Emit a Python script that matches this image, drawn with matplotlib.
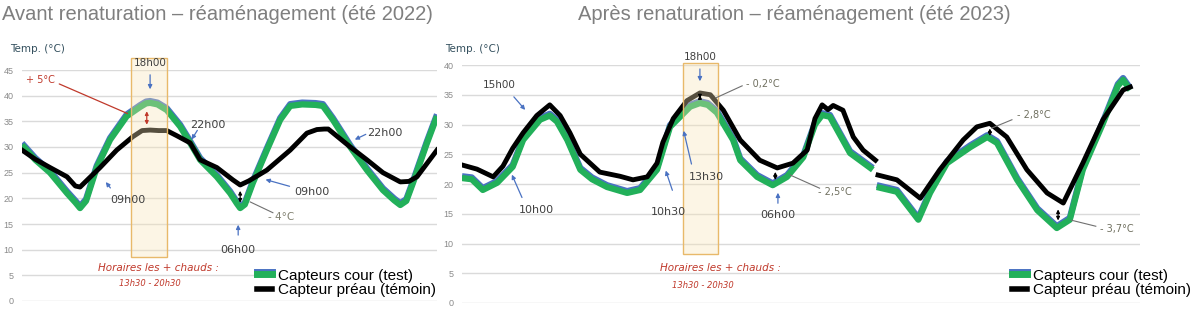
import numpy as np
import matplotlib.pyplot as plt
import matplotlib.patheffects as pe
from matplotlib.patches import Rectangle
from matplotlib.lines import Line2D

plt.rcParams['font.family'] = ['Liberation Sans', 'DejaVu Sans']

# ---- data: hours since start of record, temperature (°C) ----
# before (summer 2022)
h22_test = [0, 2.0, 4.2, 6.75, 8.0, 8.7, 9.6, 11.2, 13.2, 15.7, 17.7, 18.6, 19.2, 20.3, 21.7,
            23.7, 25.2, 26.7, 29.2, 31.2, 32.2, 32.7, 33.4, 34.6, 36.7, 38.7, 40.2, 42.0,
            44.0, 45.1, 46.6, 49.2, 51.7, 54.1, 55.8, 56.7, 57.6, 58.6, 60.7, 62.2]
t22_test = [30.4, 27.5, 25, 21, 19.2, 18.1, 19.5, 26, 31.4, 36, 37.8, 38.5, 38.6, 38.3, 37.2,
            34, 30.8, 27.5, 24.2, 21, 19.0, 18.1, 18.8, 23, 29.4, 35.3, 38, 38.3,
            38.2, 38, 35.3, 30, 25.5, 21.6, 19.6, 18.7, 19.5, 23, 30.8, 36]
h22_ref = [0, 2.0, 4.2, 6.75, 8.0, 8.7, 9.8, 11.7, 14.2, 16.6, 18.0, 19.2, 20.5, 21.7, 23.2,
           25.2, 26.7, 29.2, 31.6, 32.7, 34.0, 36.7, 40.2, 42.7, 44.2, 45.3, 45.9, 49.2,
           51.7, 54.1, 56.7, 58.0, 59.2, 62.2]
t22_ref = [29.4, 27.6, 26, 24.2, 22.4, 22.2, 23.6, 26, 29.4, 32, 33.2, 33.3, 33.2, 33.2, 32.2,
           30.8, 27.5, 26, 23.6, 22.6, 23.4, 25.5, 29.4, 32.7, 33.4, 33.5, 33.5, 30,
           27.5, 25, 23.2, 23.3, 24.2, 29.4]

# after (summer 2023) - NaN marks the gap in the record
h23_test = [0, 1.5, 3.2, 5.4, 7.8, 9.4, 12, 13.5, 14.6, 16.2, 18.2, 20.0, 22.3, 25.4, 27.4,
            30, 32, 35.1, 36.6, 37.8, 39.2, 41.7, 42.8, 45.4, 47.8, 50, 52.5, 54.3, 55.4,
            56.6, 59.7, 63.2, 63.5,
            63.8, 66.9, 70.2, 72, 74.6, 78.2, 80.8, 82.3, 85.4, 88.5, 91.5, 93.5, 95.5,
            98.6, 100.9, 101.7, 102.8]
t23_test = [21, 20.8, 19, 20.2, 22.9, 27.4, 30.8, 31.5, 30.5, 27.4, 22.4, 20.8, 19.5, 18.5, 19,
            22.4, 29.6, 33, 33.6, 33.3, 32, 27.4, 24, 21.2, 19.8, 21.2, 24.5, 30, 31.6,
            31.3, 25.2, 22.4, np.nan,
            19.5, 18.7, 14, 18.5, 23.5, 26.2, 27.9, 26.9, 20.7, 15.6, 12.6, 14, 22.4,
            30.2, 36.5, 37.5, 35.8]
h23_ref = [0, 2.3, 4.8, 6.3, 7.8, 9.4, 11.5, 13.5, 15.1, 16.6, 18.2, 21.2, 24.3, 26.3, 28.5,
           30, 30.9, 32.5, 34.6, 36.6, 38.2, 40.2, 42.8, 45.8, 48.5, 50.9, 53.1, 54.3,
           55.4, 56.3, 57.1, 58.6, 60.2, 61.7, 63.6, 63.8,
           64.0, 66.9, 70.5, 73.5, 77.1, 79.2, 81.2, 83.8, 86.9, 90, 92.5, 95.5, 98.6,
           101.7, 102.8]
t23_ref = [23.2, 22.5, 21.2, 23, 26, 28.6, 31.5, 33.3, 31.5, 28.6, 25, 22, 21.3, 20.7, 21.2,
           23.5, 27, 31, 34, 35.3, 35, 32.4, 27.4, 24, 22.7, 23.5, 25.7, 31,
           33.3, 32.5, 33.2, 32.4, 27.9, 25.7, 24, np.nan,
           21.5, 20.7, 17.6, 22.4, 27.4, 29.6, 30.2, 27.9, 22.4, 18.5, 16.8, 23.5, 30.8,
           35.8, 36.3]

labels = ['Capteurs cour (test)', 'Capteur préau (témoin)']
GREEN = '#22B05A'
BLUE = '#4A72C2'
RED = '#C0392B'
GRAY_TXT = '#404040'
ARROW = '#4A72C2'

test_fx = [pe.SimpleLineShadow(offset=(0, 1.3), shadow_color=BLUE, alpha=1), pe.Normal()]

fig = plt.figure(figsize=(12, 3.18), dpi=100)


def panel(rect, h_test, t_test, h_ref, t_ref, ymax, xmax):
    ax = fig.add_axes(rect)
    ax.plot(h_test, t_test, color=GREEN, lw=4.5, solid_capstyle='butt',
            solid_joinstyle='round', path_effects=test_fx, zorder=3)
    ax.plot(h_ref, t_ref, color='black', lw=3.5, solid_joinstyle='round', zorder=4)
    ax.set_ylim(0, ymax)
    ax.set_xlim(0, xmax)
    ax.set_yticks(np.arange(0, ymax + 1, 5))
    ax.set_xticks([])
    ax.grid(axis='y', color='#DADADA', lw=1)
    ax.set_axisbelow(True)
    for s in ax.spines.values():
        s.set_visible(False)
    ax.tick_params(axis='y', length=0, labelsize=6.5, labelcolor='#8A8A8A', pad=6)
    return ax


def arrow(ax, x0, y0, x1, y1, color=ARROW):
    ax.annotate('', xy=(x1, y1), xytext=(x0, y0),
                arrowprops=dict(arrowstyle='-|>', color=color, lw=0.9, mutation_scale=6),
                annotation_clip=False, zorder=6)


def darrow(ax, x, y0, y1, color='black'):
    ax.annotate('', xy=(x, y1), xytext=(x, y0),
                arrowprops=dict(arrowstyle='<|-|>', color=color, lw=0.9, mutation_scale=5),
                zorder=6)


def note(ax, x, y, s, color=GRAY_TXT, size=7.5, **kw):
    ax.text(x, y, s, color=color, fontsize=size, ha='center', va='center',
            family=['DejaVu Sans'], zorder=7, **kw)


def hot_box(ax, x0, x1, y0, y1):
    ax.add_patch(Rectangle((x0, y0), x1 - x0, y1 - y0, facecolor='#F7E3B5', alpha=0.35,
                           edgecolor='none', zorder=5, clip_on=False))
    ax.add_patch(Rectangle((x0, y0), x1 - x0, y1 - y0, facecolor='none',
                           edgecolor='#E8B96A', lw=1, zorder=5, clip_on=False))


# ---------- left: 2022 ----------
ax1 = panel([22 / 1200, 17 / 318, 415 / 1200, 231 / 318],
            h22_test, t22_test, h22_ref, t22_ref, 45, 62.2)
hot_box(ax1, 16.3, 21.7, 8.5, 47.4)
note(ax1, 19.2, 46.3, '18h00')
arrow(ax1, 19.2, 44.6, 19.2, 40.7)
note(ax1, 2.7, 43.1, '+ 5°C', color=RED, size=7)
ax1.annotate('', xy=(16.2, 36.3), xytext=(5.2, 42.5),
             arrowprops=dict(arrowstyle='-', color=RED, lw=0.9), annotation_clip=False)
darrow(ax1, 18.7, 37.5, 33.8, color=RED)
note(ax1, 27.9, 34.3, '22h00', size=8)
arrow(ax1, 26.5, 33.7, 25.2, 31.0)
note(ax1, 54.4, 32.7, '22h00', size=8)
arrow(ax1, 51.9, 32.7, 49.5, 31.2)
note(ax1, 15.9, 19.7, '09h00', size=8)
arrow(ax1, 13.5, 21.6, 12.3, 23.6)
note(ax1, 43.5, 21.2, '09h00', size=8)
arrow(ax1, 40.5, 22.2, 36.1, 23.8)
note(ax1, 38.9, 16.4, '- 4°C', color='#808070', size=7.5)
ax1.plot([37.6, 34.2], [17.2, 19.3], color='#707070', lw=0.8, zorder=6)
darrow(ax1, 32.7, 22.0, 18.6)
note(ax1, 32.4, 9.9, '06h00', size=8)
arrow(ax1, 32.4, 12.3, 32.4, 15.4)
note(ax1, 20.4, 6.4, 'Horaires les + chauds :', color=RED, size=7.5, style='italic')
note(ax1, 19.2, 3.5, '13h30 - 20h30', color=RED, size=6, style='italic')

# ---------- right: 2023 ----------
ax2 = panel([462 / 1200, 15 / 318, 678 / 1200, 238 / 318],
            h23_test, t23_test, h23_ref, t23_ref, 40, 104.3)
hot_box(ax2, 34.0, 39.4, 8.2, 40.3)
note(ax2, 5.8, 36.6, '15h00')
arrow(ax2, 7.7, 35.0, 10.0, 32.1)
note(ax2, 36.6, 41.3, '18h00')
arrow(ax2, 36.6, 39.8, 36.6, 36.8)
note(ax2, 46.2, 36.8, '- 0,2°C', color='#707060', size=7)
ax2.plot([43.1, 39.1], [36.5, 34.5], color='#707070', lw=0.8, zorder=6)
darrow(ax2, 36.6, 35.4, 33.9)
note(ax2, 11.5, 15.6, '10h00', size=8)
arrow(ax2, 9.4, 17.3, 7.5, 22.0)
note(ax2, 31.7, 15.3, '10h30', size=8)
arrow(ax2, 32.5, 18.5, 31.2, 22.7)
note(ax2, 37.6, 21.2, '13h30', size=8)
arrow(ax2, 35.4, 22.9, 34.0, 29.4)
note(ax2, 48.6, 14.8, '06h00', size=8)
arrow(ax2, 48.6, 16.3, 48.6, 19.0)
note(ax2, 57.4, 18.7, '- 2,5°C', color='#707060', size=7)
ax2.plot([50.5, 55.0], [21.5, 19.3], color='#707070', lw=0.8, zorder=6)
darrow(ax2, 48.2, 22.5, 20.2)
note(ax2, 87.9, 31.6, '- 2,8°C', color='#707060', size=7)
ax2.plot([84.6, 81.5], [30.8, 29.4], color='#707070', lw=0.8, zorder=6)
darrow(ax2, 81.2, 29.8, 27.6)
note(ax2, 100.8, 12.4, '- 3,7°C', color='#707060', size=7)
ax2.plot([97.5, 93.8], [12.9, 13.9], color='#707070', lw=0.8, zorder=6)
darrow(ax2, 91.7, 16.2, 13.4)
note(ax2, 39.7, 5.9, 'Horaires les + chauds :', color=RED, size=7.5, style='italic')
note(ax2, 37.1, 3.0, '13h30 - 20h30', color=RED, size=6, style='italic')

# ---------- titles ----------
fig.text(2 / 1200, 1 - 15 / 318, 'Avant renaturation – réaménagement (été 2022)',
         fontsize=14.5, color='#7F7F7F', va='center', ha='left')
fig.text(578 / 1200, 1 - 15 / 318, 'Après renaturation – réaménagement (été 2023)',
         fontsize=14.5, color='#7F7F7F', va='center', ha='left')
fig.text(10 / 1200, 1 - 49 / 318, 'Temp. (°C)', fontsize=7.5, color='#34505E',
         va='center', ha='left', family=['DejaVu Sans'])
fig.text(445 / 1200, 1 - 49 / 318, 'Temp. (°C)', fontsize=7.5, color='#34505E',
         va='center', ha='left', family=['DejaVu Sans'])

# ---------- legends ----------
handles = [Line2D([], [], color=GREEN, lw=5, path_effects=test_fx),
           Line2D([], [], color='black', lw=4)]
for x_px in (255, 1010):
    fig.legend(handles, labels, loc='center left',
               bbox_to_anchor=(x_px / 1200, 1 - 283 / 318), fontsize=11,
               frameon=True, facecolor='white', edgecolor='none', framealpha=1,
               borderpad=0.1, handlelength=1.0, handletextpad=0.4, labelspacing=0.05,
               borderaxespad=0)

fig.savefig('out.png', dpi=100, facecolor='white')
